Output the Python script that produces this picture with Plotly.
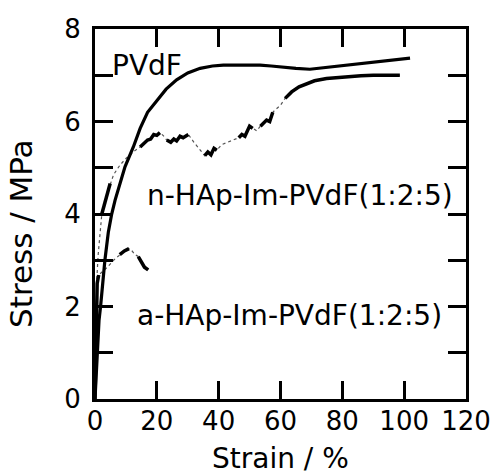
import plotly.graph_objects as go

# ---- data ----
pvdf_x = [0, 0.4, 0.8, 1.3, 1.8, 2.5, 3.2, 4.3, 5.4, 6.5, 8.1, 9.7, 12.4, 14.6, 17, 20, 23, 26.4, 30, 34,
          38, 41.5, 47, 53.4, 57, 60.8, 65, 69.5, 76, 82.5, 90, 96, 101.9]
pvdf_y = [0, 0.6, 1.2, 1.7, 2.0, 2.5, 3.0, 3.6, 4.0, 4.3, 4.66, 5.02, 5.45, 5.85, 6.2, 6.46, 6.7, 6.9, 7.05, 7.15,
          7.2, 7.22, 7.22, 7.22, 7.2, 7.17, 7.15, 7.13, 7.18, 7.22, 7.27, 7.32, 7.37]

nhap_x = [0, 0.3, 0.6, 1.0, 1.8, 2.2, 3.5, 4.9, 6.0, 8.0, 10.0, 12.5, 14.6, 16.0, 17.0, 18.0, 19.0, 20.0, 21.0,
          22.0, 23.2, 24.5, 25.5, 26.4, 27.5, 28.5, 30.2, 32.0, 34.0, 35.5, 36.5, 37.5, 38.5, 39.4, 41.0, 43.0,
          45.0, 46.5, 47.5, 48.5, 50.0, 51.0, 52.3, 53.5, 55.5, 56.5, 57.5, 58.8, 60.0, 61.5, 63.6, 66.0, 68.5,
          71.0, 74.9, 78.0, 82.5, 86.0, 90.0, 94.0, 98.6]
nhap_y = [0, 1.5, 2.6, 3.1, 3.6, 4.0, 4.35, 4.66, 4.85, 5.05, 5.2, 5.35, 5.45, 5.55, 5.6, 5.62, 5.72, 5.7, 5.76,
          5.7, 5.6, 5.55, 5.62, 5.58, 5.68, 5.65, 5.72, 5.55, 5.38, 5.26, 5.34, 5.28, 5.42, 5.38, 5.5, 5.55,
          5.6, 5.65, 5.72, 5.68, 5.9, 5.85, 5.8, 5.9, 6.03, 6.0, 6.2, 6.28, 6.35, 6.5, 6.64, 6.75, 6.82,
          6.88, 6.93, 6.95, 6.98, 6.99, 7.0, 7.0, 7.0]
nhap_thick = [(2.2, 4.9), (14.6, 21.0), (23.2, 26.4), (27.5, 30.2), (35.5, 39.4), (46.5, 51.0), (53.5, 57.5),
              (61.5, 71.0), (74.9, 86.0), (90.0, 98.6)]

ahap_x = [0, 0.2, 0.4, 0.7, 1.2, 2.5, 4.0, 6.0, 8.0, 9.5, 11.0, 12.0, 13.0, 14.0, 15.0, 16.0, 17.2]
ahap_y = [0, 1.0, 2.0, 2.5, 2.68, 2.75, 2.85, 3.0, 3.12, 3.2, 3.25, 3.2, 3.12, 3.08, 2.95, 2.85, 2.79]
ahap_thick = [(0, 1.2), (8.0, 11.0), (14.0, 17.2)]

x_ticks = [0, 20, 40, 60, 80, 100, 120]
y_ticks = [0, 1, 2, 3, 4, 5, 6, 7, 8]
y_labels = ["0", "", "2", "", "4", "", "6", "", "8"]

labels = ["PVdF", "n-HAp-Im-PVdF(1:2:5)", "a-HAp-Im-PVdF(1:2:5)"]
label_x = [4.85, 66.3, 62.8]
label_y = [7.22, 4.39, 1.8]


def thick_part(xs, ys, ranges):
    out = []
    for x, y in zip(xs, ys):
        out.append(y if any(a <= x <= b for a, b in ranges) else None)
    return out


FONT = "DejaVu Sans"
fig = go.Figure()

# thin (dotted) underlay for the fragmented curves
for xs, ys in [(nhap_x, nhap_y), (ahap_x, ahap_y)]:
    fig.add_trace(go.Scatter(x=xs, y=ys, mode="lines",
                             line=dict(color="#555555", width=1.2, dash="dot"),
                             showlegend=False, hoverinfo="skip"))
# thick segments
fig.add_trace(go.Scatter(x=nhap_x, y=thick_part(nhap_x, nhap_y, nhap_thick), mode="lines",
                         line=dict(color="black", width=3.5), connectgaps=False, showlegend=False))
fig.add_trace(go.Scatter(x=ahap_x, y=thick_part(ahap_x, ahap_y, ahap_thick), mode="lines",
                         line=dict(color="black", width=3.5), connectgaps=False, showlegend=False))
# PVdF
fig.add_trace(go.Scatter(x=pvdf_x, y=pvdf_y, mode="lines", line=dict(color="black", width=3.2),
                         showlegend=False))

for t, x, y in zip(labels, label_x, label_y):
    fig.add_annotation(x=x, y=y, text=t, showarrow=False, xanchor="left" if t == "PVdF" else "center",
                       yanchor="middle", font=dict(family=FONT, size=28, color="black"))

fig.add_annotation(xref="paper", x=0, xshift=-74, xanchor="center", yref="y", y=3.57, yanchor="middle",
                   text="Stress / MPa", textangle=-90,
                   showarrow=False, font=dict(family=FONT, size=31, color="black"))
fig.add_annotation(xref="x", x=60, xanchor="center", yref="paper", y=0, yshift=-59, yanchor="middle",
                   text="Strain / %", showarrow=False,
                   font=dict(family=FONT, size=28, color="black"))

fig.update_xaxes(range=[0, 120], tickvals=x_ticks, ticks="inside", ticklen=18, tickwidth=3,
                 tickcolor="black", showline=True, linewidth=3, linecolor="black", mirror="ticks",
                 showgrid=False, zeroline=False, tickfont=dict(family=FONT, size=26, color="black"),
                 ticklabelstandoff=-3, automargin=False)
fig.update_yaxes(range=[0, 8], tickvals=y_ticks, ticktext=y_labels, ticks="inside", ticklen=18, tickwidth=3,
                 tickcolor="black", showline=True, linewidth=3, linecolor="black", mirror="ticks",
                 showgrid=False, zeroline=False, tickfont=dict(family=FONT, size=26, color="black"),
                 ticklabelstandoff=6, automargin=False)

fig.update_layout(width=492, height=475, margin=dict(l=95, r=26, t=29, b=76),
                  plot_bgcolor="white", paper_bgcolor="white")

fig.write_html("out.html")
